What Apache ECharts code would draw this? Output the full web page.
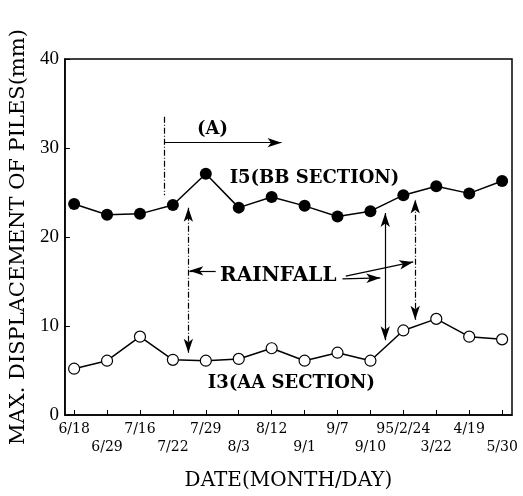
<!DOCTYPE html>
<html><head><meta charset="utf-8">
<script src="https://cdn.jsdelivr.net/npm/echarts@6/dist/echarts.min.js"></script>
<style>html,body{margin:0;padding:0;background:#fff}#c{width:523px;height:496px}</style>
</head><body><div id="c"></div>
<script>
const categories = ['6/18','6/29','7/16','7/22','7/29','8/3','8/12','9/1','9/7','9/10','95/2/24','3/22','4/19','5/30'];
const i5Values = [23.7,22.5,22.6,23.6,27.1,23.3,24.5,23.5,22.3,22.9,24.7,25.7,24.9,26.3];
const i3Values = [5.2,6.1,8.8,6.2,6.1,6.3,7.5,6.1,7.0,6.1,9.5,10.8,8.8,8.5];
const yTicks = [0,10,20,30,40];

const SERIF = '"Liberation Serif","DejaVu Serif",serif';
const WIDE = '"DejaVu Serif","Liberation Serif",serif';
const idx = categories.map((c,i)=>i);
const chart = echarts.init(document.getElementById('c'));
const arrowStyle = {color:'#000', width:1.2};
function ml(a,b,type,sym){
  return [{coord:a, symbol:sym[0], lineStyle:{type:type}}, {coord:b, symbol:sym[1]}];
}
chart.setOption({
  animation:false,
  backgroundColor:'#fff',
  grid:{left:63,right:11,top:59,bottom:81,show:true,borderColor:'#000',borderWidth:1.5,backgroundColor:'transparent'},
  xAxis:{type:'value',min:-0.28,max:13.3,
    name:'DATE(MONTH/DAY)',nameLocation:'middle',nameGap:56,
    nameTextStyle:{fontFamily:WIDE,fontSize:20,color:'#000'},
    axisLine:{show:true,onZero:false,lineStyle:{color:'#000',width:1.5}},
    axisTick:{show:true,inside:true,length:5,customValues:idx,lineStyle:{color:'#000'}},
    splitLine:{show:false},
    axisLabel:{customValues:idx,fontFamily:WIDE,fontSize:14,color:'#000',margin:5,lineHeight:18,
      formatter:(v)=>{const i=Math.round(v);return i%2===0?categories[i]:'\n'+categories[i];}}
  },
  yAxis:{type:'value',min:0,max:40,interval:10,
    name:'MAX. DISPLACEMENT OF PILES(mm)',nameLocation:'middle',nameGap:31,
    nameTextStyle:{fontFamily:WIDE,fontSize:21,color:'#000'},
    axisLine:{show:true,onZero:false,lineStyle:{color:'#000',width:1.5}},
    axisTick:{show:true,inside:true,length:5,lineStyle:{color:'#000'}},
    splitLine:{show:false},
    axisLabel:{fontFamily:SERIF,fontSize:19,color:'#000',margin:6,
      formatter:(v)=>yTicks.includes(v)?String(v):''}
  },
  series:[
    {name:'I5',type:'line',data:i5Values.map((v,i)=>[i,v]),symbol:'circle',symbolSize:12,
      itemStyle:{color:'#000'},lineStyle:{color:'#000',width:1.5},z:5,
      markLine:{silent:true,symbolSize:[7,14],label:{show:false},lineStyle:arrowStyle,
        data:[
          ml([2.75,33.5],[2.75,24.7],[6,2,1,2],['none','none']),
          ml([2.75,30.6],[6.3,30.6],'solid',['none','arrow']),
          ml([4.3,16.2],[3.5,16.2],'solid',['none','arrow']),
          ml([8.15,15.3],[9.3,15.4],'solid',['none','arrow']),
          ml([8.25,15.6],[10.3,17.2],'solid',['none','arrow']),
          ml([3.47,7.0],[3.47,23.3],[6,2,1,2],['arrow','arrow']),
          ml([9.45,8.4],[9.45,22.7],'solid',['arrow','arrow']),
          ml([10.36,10.7],[10.36,24.2],[6,2,1,2],['arrow','arrow'])
        ]},
      markPoint:{silent:true,symbol:'circle',symbolSize:0,
        label:{show:true,color:'#000',fontFamily:WIDE,fontWeight:'bold',fontSize:18,position:'inside'},
        data:[
          {coord:[4.2,32.1],label:{formatter:'(A)'}},
          {coord:[7.3,26.6],label:{formatter:'I5(BB SECTION)'}},
          {coord:[6.2,15.6],label:{formatter:'RAINFALL',fontSize:20}},
          {coord:[6.6,3.6],label:{formatter:'I3(AA SECTION)'}}
        ]}
    },
    {name:'I3',type:'line',data:i3Values.map((v,i)=>[i,v]),symbol:'circle',symbolSize:11,
      itemStyle:{color:'#fff',borderColor:'#000',borderWidth:1.2},lineStyle:{color:'#000',width:1.5},z:5}
  ]
});
</script></body></html>
